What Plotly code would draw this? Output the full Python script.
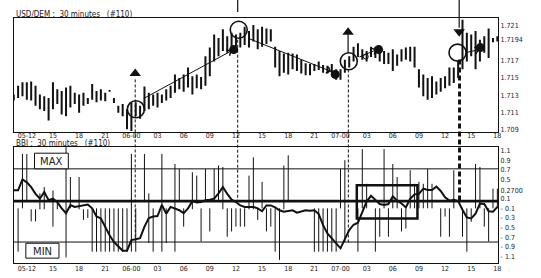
import plotly.graph_objects as go

W, H = 541, 278

# ---------------- data ----------------
# one bar per half hour; time in hours since 05-00:00
bar_hours = [10.5 + 0.5 * i for i in range(112)]
tick_hours = [12, 15, 18, 21, 24, 27, 30, 33, 36, 39, 42, 45, 48, 51, 54, 57, 60, 63, 66]
tick_labels = ["05-12", "15", "18", "21", "06-00", "03", "06", "09", "12", "15", "18", "21",
               "07-00", "03", "06", "09", "12", "15", "18"]

price_high = [
    1.7131, 1.7141, 1.7145, 1.7145, 1.7146, 1.7141, 1.7131, 1.7129, 1.7127, 1.7145, 1.7137, 1.7135,
    1.7139, 1.7141, 1.7133, 1.7131, 1.7133, 1.7127, 1.7143, 1.7135, 1.7137, 1.7133, 1.7136, 1.7127,
    1.7118, 1.7120, 1.7114, 1.7122, 1.7122, 1.7118, 1.7140, 1.7133, 1.7131, 1.7133, 1.7131, 1.7137,
    1.7141, 1.7154, 1.7150, 1.7154, 1.7162, 1.7152, 1.7154, 1.7151, 1.7175, 1.7185, 1.7200, 1.7196,
    1.7206, 1.7198, 1.7202, 1.7200, 1.7202, 1.7209, 1.7204, 1.7211, 1.7206, 1.7209, 1.7207, 1.7206,
    1.7186, 1.7181, 1.7178, 1.7179, 1.7178, 1.7177, 1.7171, 1.7167, 1.7166, 1.7166, 1.7169, 1.7165,
    1.7164, 1.7166, 1.7160, 1.7160, 1.7171, 1.7175, 1.7186, 1.7190, 1.7183, 1.7181, 1.7186, 1.7186,
    1.7186, 1.7181, 1.7179, 1.7183, 1.7177, 1.7183, 1.7185, 1.7186, 1.7186, 1.7160, 1.7154, 1.7150,
    1.7152, 1.7146, 1.7150, 1.7152, 1.7162, 1.7162, 1.7169, 1.7217, 1.7202, 1.7200, 1.7204, 1.7194,
    1.7198, 1.7207, 1.7196, 1.7198,
]
price_low = [
    1.7124, 1.7127, 1.7129, 1.7125, 1.7124, 1.7118, 1.7114, 1.7112, 1.7101, 1.7114, 1.7120, 1.7108,
    1.7106, 1.7116, 1.7120, 1.7110, 1.7118, 1.7120, 1.7125, 1.7122, 1.7124, 1.7123, 1.7134, 1.7121,
    1.7110, 1.7106, 1.7091, 1.7089, 1.7106, 1.7103, 1.7112, 1.7114, 1.7118, 1.7116, 1.7121, 1.7124,
    1.7127, 1.7133, 1.7137, 1.7134, 1.7139, 1.7131, 1.7138, 1.7137, 1.7141, 1.7152, 1.7169, 1.7175,
    1.7181, 1.7179, 1.7179, 1.7186, 1.7185, 1.7188, 1.7185, 1.7192, 1.7183, 1.7186, 1.7189, 1.7192,
    1.7162, 1.7152, 1.7156, 1.7154, 1.7160, 1.7158, 1.7155, 1.7153, 1.7153, 1.7158, 1.7159, 1.7156,
    1.7155, 1.7156, 1.7148, 1.7148, 1.7156, 1.7162, 1.7169, 1.7174, 1.7171, 1.7169, 1.7174, 1.7173,
    1.7169, 1.7166, 1.7166, 1.7158, 1.7164, 1.7169, 1.7171, 1.7169, 1.7162, 1.7139, 1.7129, 1.7125,
    1.7127, 1.7131, 1.7134, 1.7138, 1.7141, 1.7144, 1.7150, 1.7160, 1.7169, 1.7175, 1.7160, 1.7169,
    1.7179, 1.7173, 1.7191, 1.7192,
]
price_ticks = [1.709, 1.711, 1.713, 1.715, 1.717, 1.7194, 1.721]
price_tick_labels = ["1.709", "1.711", "1.713", "1.715", "1.717", "1.7194", "1.721"]

bbi_line = [
    0.275, 0.275, 0.50, 0.44, 0.34, 0.20, 0.10, 0.24, 0.07, 0.10, 0.03, -0.10,
    -0.20, -0.03, -0.07, -0.055, -0.04, -0.02, -0.10, -0.27, -0.31, -0.50, -0.66, -0.80,
    -0.90, -0.98, -0.98, -0.76, -0.74, -0.72, -0.48, -0.30, -0.27, -0.26, -0.03, -0.21,
    -0.07, -0.10, -0.14, -0.20, -0.10, 0.05, 0.02, 0.03, 0.07, 0.08, 0.10, 0.21,
    0.34, 0.20, 0.08, 0.03, -0.04, -0.07, -0.07, -0.07, -0.10, -0.16, -0.04, -0.04,
    -0.08, -0.14, -0.17, -0.16, -0.14, -0.19, -0.16, -0.14, -0.15, -0.14, -0.22, -0.45,
    -0.62, -0.72, -0.84, -0.93, -0.74, -0.55, -0.44, -0.40, -0.18, 0.04, 0.16, 0.08,
    -0.01, -0.03, -0.01, 0.15, 0.06, 0.00, -0.08, 0.10, 0.19, 0.20, 0.31, 0.28,
    0.28, 0.35, 0.26, 0.13, 0.06, 0.08, 0.05, -0.13, -0.29, -0.31, -0.21, 0.00,
    -0.01, -0.16, -0.17, -0.07,
]
N = None
bbi_bar_high = [
    N, -0.10, 1.03, 1.03, -0.12, -0.12, 0.21, 0.34, N, 0.27, 0.03, N,
    1.17, 0.55, N, 0.55, -0.12, -0.12, -0.10, -0.10, -0.10, -0.10, -0.10, -0.10,
    -0.10, -0.10, -0.10, 1.03, -0.10, N, 1.03, 0.21, -0.10, N, 1.03, -0.10,
    N, 0.82, 0.72, -0.10, N, 0.65, 0.58, -0.10, 0.72, -0.10, 0.72, 0.79,
    0.76, -0.10, -0.10, -0.10, -0.10, -0.10, 0.58, 0.96, -0.10, 0.45, -0.10, -0.10,
    -0.10, -0.10, 0.79, 1.00, N, N, N, N, N, -0.10, -0.10, -0.10,
    -0.10, -0.10, -0.10, 0.72, 0.90, N, N, -0.10, 1.13, 0.41, N, -0.10,
    -0.10, 1.13, -0.10, 0.82, 0.55, -0.10, -0.10, 0.69, 0.41, 0.45, 0.41, 0.72,
    0.41, N, -0.10, -0.10, -0.10, 0.69, N, -0.10, -0.10, -0.10, 0.82, 0.76,
    -0.10, -0.10, 0.31, 0.31,
]
bbi_bar_low = [
    N, -1.00, -0.10, 0.07, -0.37, -0.37, -0.12, -0.12, N, -0.48, -0.12, N,
    -1.12, -0.10, N, -0.12, -0.34, -0.30, -1.00, -1.00, -1.00, -1.00, -1.00, -1.00,
    -1.00, -1.00, -1.00, -1.00, -1.00, N, 0.03, -0.82, -1.00, N, -1.00, -0.82,
    N, -1.00, 0.05, -0.48, N, -0.12, 0.03, -0.79, 0.03, -0.58, 0.03, 0.03,
    -0.12, -0.69, -0.58, -0.48, -0.48, -0.48, -0.12, -0.12, -0.34, -0.10, -0.58, -0.48,
    -1.00, -1.17, -0.12, 0.03, N, N, N, N, N, -1.00, -1.00, -1.00,
    -1.00, -1.00, -1.00, -0.10, -0.80, N, N, -1.00, -0.10, -0.10, N, -1.00,
    -0.69, -0.10, -0.69, -0.10, -0.10, -0.58, -0.52, -0.10, -0.10, -0.10, -0.10, -0.10,
    -0.10, N, -0.69, -0.27, -0.69, -0.10, N, -0.69, -1.00, -0.38, -0.10, -0.10,
    -0.48, -0.79, -0.10, -0.10,
]
bbi_ticks = [1.1, 0.9, 0.7, 0.5, 0.27, 0.1, -0.1, -0.3, -0.5, -0.7, -0.9, -1.1]
bbi_tick_labels = ["1.1", "0.9", "0.7", "0.5", "0.2700", "0.1", "- 0.1", "- 0.3", "- 0.5",
                   "- 0.7", "- 0.9", "- 1.1"]
bbi_max_level, bbi_mid_level, bbi_min_level = 0.72, 0.05, -0.80

# signals on the price chart (time, price)
signal_circles_t = [24.52, 36.32, 48.95, 61.43]
signal_circles_p = [1.7114, 1.72054, 1.71692, 1.71791]
dots_t = [35.74, 47.39, 52.38, 64.05]
dots_p = [1.71826, 1.7154, 1.71826, 1.71849]
up_t, up_p = [24.44, 48.87], [1.71551, 1.72026]
down_t, down_p = [36.2, 61.62], [1.72226, 1.72031]
trend_from = [(25.24, 1.71254), (37.23, 1.71963), (50.0, 1.71734), (62.34, 1.71791)]
trend_to = [(35.52, 1.71814), (46.93, 1.71574), (52.18, 1.71826), (63.94, 1.71826)]

# ---------------- figure ----------------
FONT = "Liberation Sans Narrow, DejaVu Sans Condensed, Arial Narrow, sans-serif"


def px(x):
    return x / W


def py(y):
    return 1 - y / H


def segs(xs, lo, hi):
    X, Y = [], []
    for x, a, b in zip(xs, lo, hi):
        if a is None or b is None:
            continue
        X += [x, x, None]
        Y += [a, b, None]
    return X, Y


fig = go.Figure()
bx, by = segs(bar_hours, price_low, price_high)
fig.add_trace(go.Scatter(x=bx, y=by, mode="lines", line=dict(color="#111", width=2),
                         xaxis="x", yaxis="y", hoverinfo="skip"))
vx, vy = segs(bar_hours, bbi_bar_low, bbi_bar_high)
fig.add_trace(go.Scatter(x=vx, y=vy, mode="lines", line=dict(color="#111", width=1),
                         xaxis="x2", yaxis="y2", hoverinfo="skip"))
fig.add_trace(go.Scatter(x=bar_hours, y=bbi_line, mode="lines", line=dict(color="#111", width=2),
                         xaxis="x2", yaxis="y2", hoverinfo="skip"))

# markers
fig.add_trace(go.Scatter(x=signal_circles_t, y=signal_circles_p, mode="markers",
                         marker=dict(symbol="circle-open", size=17, color="#111", line=dict(width=1.6)),
                         xaxis="x", yaxis="y", cliponaxis=False))
fig.add_trace(go.Scatter(x=dots_t, y=dots_p, mode="markers",
                         marker=dict(symbol="circle", size=9, color="#111"),
                         xaxis="x", yaxis="y", cliponaxis=False))
fig.add_trace(go.Scatter(x=[50.9], y=[1.71746], mode="markers",
                         marker=dict(symbol="circle-open", size=5, color="#111", line=dict(width=1)),
                         xaxis="x", yaxis="y"))
fig.add_trace(go.Scatter(x=up_t, y=up_p, mode="markers",
                         marker=dict(symbol="triangle-up", size=10, color="#111"),
                         xaxis="x", yaxis="y", cliponaxis=False))
fig.add_trace(go.Scatter(x=down_t, y=down_p, mode="markers",
                         marker=dict(symbol="triangle-down", size=10, color="#111"),
                         xaxis="x", yaxis="y", cliponaxis=False))

shapes = []
# bottom panel reference lines
for lvl, w in [(bbi_max_level, 1), (bbi_min_level, 1), (bbi_mid_level, 2.6)]:
    shapes.append(dict(type="line", xref="x2 domain", yref="y2", x0=0, x1=1, y0=lvl, y1=lvl,
                       line=dict(color="#111", width=w)))
# highlighted box
shapes.append(dict(type="rect", xref="x2", yref="y2", x0=49.87, x1=56.83, y0=-0.31, y1=0.377,
                   line=dict(color="#111", width=2.5)))
# dashed signal lines across both panels
for t, y0, y1, w, d in [(24.44, 80, 242, 1, "3px,2px"), (36.2, 40, 202, 1, "3px,2px"),
                        (48.9, 70, 245, 1, "3px,2px"), (61.66, 60, 205, 3, "5px,3px")]:
    shapes.append(dict(type="line", xref="x", yref="paper", x0=t, x1=t, y0=py(y0), y1=py(y1),
                       line=dict(color="#111", width=w, dash=d)))
# solid stems of the arrows
shapes.append(dict(type="line", xref="x", yref="paper", x0=36.2, x1=36.2, y0=py(0), y1=py(12),
                   line=dict(color="#111", width=1.2)))
shapes.append(dict(type="line", xref="x", yref="paper", x0=61.62, x1=61.62, y0=py(0), y1=py(28),
                   line=dict(color="#111", width=1.2)))
shapes.append(dict(type="line", xref="x", yref="y", x0=48.87, x1=48.87, y0=1.7200, y1=1.71791,
                   line=dict(color="#111", width=1.2)))
# MAX / MIN boxes
shapes.append(dict(type="rect", xref="paper", yref="paper", x0=px(34.7), x1=px(68.7),
                   y0=py(170), y1=py(154.3), line=dict(color="#111", width=1), fillcolor="white"))
shapes.append(dict(type="rect", xref="paper", yref="paper", x0=px(26), x1=px(59.3),
                   y0=py(260), y1=py(245), line=dict(color="#111", width=1), fillcolor="white"))

annotations = []
for (ax_, ay_), (x_, y_) in zip(trend_from, trend_to):
    annotations.append(dict(x=x_, y=y_, ax=ax_, ay=ay_, xref="x", yref="y", axref="x", ayref="y",
                            text="", showarrow=True, arrowhead=4, arrowsize=1.3, arrowwidth=1,
                            arrowcolor="#111"))
nb = "\u00a0"
annotations.append(dict(x=px(14), y=py(14.5), xref="paper", yref="paper", xanchor="left",
                        yanchor="middle", showarrow=False,
                        text=f"USD/DEM{nb}:{nb}{nb}30{nb}minutes{nb}{nb}{nb}(#110)",
                        font=dict(family=FONT, size=8, color="#222")))
annotations.append(dict(x=px(14), y=py(144.5), xref="paper", yref="paper", xanchor="left",
                        yanchor="middle", showarrow=False,
                        text=f"BBI{nb}:{nb}{nb}30{nb}minutes{nb}{nb}{nb}(#110)",
                        font=dict(family=FONT, size=8, color="#222")))
annotations.append(dict(x=px(51.7), y=py(162.5), xref="paper", yref="paper", showarrow=False,
                        xanchor="center", yanchor="middle",
                        text="MAX", font=dict(family="DejaVu Sans", size=10, color="#222")))
annotations.append(dict(x=px(42.6), y=py(253), xref="paper", yref="paper", showarrow=False,
                        xanchor="center", yanchor="middle",
                        text="MIN", font=dict(family="DejaVu Sans", size=10, color="#222")))

tickfont = dict(family=FONT, size=7, color="#222")
xcommon = dict(range=[10.52, 66.1], tickvals=tick_hours, ticktext=tick_labels, showgrid=False,
               zeroline=False, showline=True, mirror=True, linecolor="#111", linewidth=1,
               ticks="", tickfont=tickfont, domain=[px(14), px(501)], tickangle=0)
ycommon = dict(showgrid=False, zeroline=False, showline=True, mirror=True, linecolor="#111",
               linewidth=1, ticks="", tickfont=tickfont, side="right")

fig.update_layout(
    width=W, height=H, margin=dict(l=0, r=0, t=0, b=0),
    paper_bgcolor="white", plot_bgcolor="white", showlegend=False,
    xaxis=dict(**xcommon, anchor="y", ticklabelstandoff=-3),
    yaxis=dict(**ycommon, anchor="x", domain=[py(133), py(18)], range=[1.70877, 1.72191],
               tickvals=price_ticks, ticktext=price_tick_labels),
    xaxis2=dict(**xcommon, anchor="y2", ticklabelstandoff=-1),
    yaxis2=dict(**ycommon, anchor="x2", domain=[py(265), py(148)], range=[-1.237, 1.175],
                tickvals=bbi_ticks, ticktext=bbi_tick_labels),
    shapes=shapes, annotations=annotations,
)

fig.write_html("out.html")
